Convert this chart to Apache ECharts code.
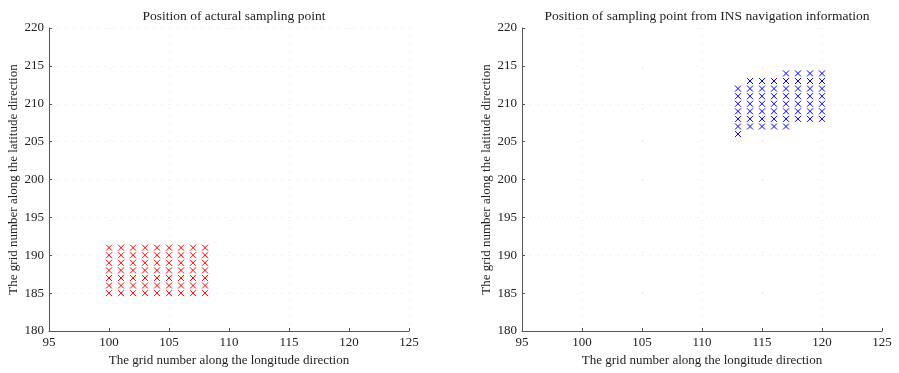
<!DOCTYPE html>
<html>
<head>
<meta charset="utf-8">
<script src="https://cdn.jsdelivr.net/npm/echarts@6/dist/echarts.min.js"></script>
<style>
html,body{margin:0;padding:0;background:#fff;}
#c{width:899px;height:373px;}
</style>
</head>
<body>
<div id="c"></div>
<script>
// Titles and axis names
var titleLeft = 'Position of actural sampling point';
var titleRight = 'Position of sampling point from INS navigation information';
var xName = 'The grid number along the longitude direction';
var yName = 'The grid number along the latitude direction';

// Axis ranges / tick labels
var xTicks = [95, 100, 105, 110, 115, 120, 125];
var yTicks = [180, 185, 190, 195, 200, 205, 210, 215, 220];

// Actual sampling points: columns (x) and the y values in each column
var actualX = [100, 101, 102, 103, 104, 105, 106, 107, 108];
var actualY = [
  [185,186,187,188,189,190,191],
  [185,186,187,188,189,190,191],
  [185,186,187,188,189,190,191],
  [185,186,187,188,189,190,191],
  [185,186,187,188,189,190,191],
  [185,186,187,188,189,190,191],
  [185,186,187,188,189,190,191],
  [185,186,187,188,189,190,191],
  [185,186,187,188,189,190,191]
];

// INS sampling points: columns (x) and the y values in each column
var insX = [113, 114, 115, 116, 117, 118, 119, 120];
var insY = [
  [206,207,208,209,210,211,212],
  [207,208,209,210,211,212,213],
  [207,208,209,210,211,212,213],
  [207,208,209,210,211,212,213],
  [207,208,209,210,211,212,213,214],
  [208,209,210,211,212,213,214],
  [208,209,210,211,212,213,214],
  [208,209,210,211,212,213,214]
];

function pairs(xs, ys) {
  var out = [];
  for (var i = 0; i < xs.length; i++) {
    for (var j = 0; j < ys[i].length; j++) out.push([xs[i], ys[i][j]]);
  }
  return out;
}

var FONT = '"Liberation Serif", "DejaVu Serif", serif';
var cross = 'path://M0,0L10,10M10,0L0,10';

function xAxisCfg(idx) {
  return {
    type: 'value', gridIndex: idx,
    min: xTicks[0], max: xTicks[xTicks.length - 1], interval: 5,
    name: xName, nameLocation: 'middle', nameGap: 23,
    nameTextStyle: { fontFamily: FONT, fontSize: 13, color: '#222' },
    axisLine: { show: true, onZero: false, lineStyle: { color: '#555', width: 1 } },
    axisTick: { show: true, inside: true, length: 3, lineStyle: { color: '#555' } },
    axisLabel: { fontFamily: FONT, fontSize: 13, color: '#222', margin: 5 },
    splitLine: { show: true, lineStyle: { color: '#e6e6e6', type: [1, 7], width: 1 } }
  };
}
function yAxisCfg(idx) {
  return {
    type: 'value', gridIndex: idx,
    min: yTicks[0], max: yTicks[yTicks.length - 1], interval: 5,
    name: yName, nameLocation: 'middle', nameGap: 29, nameRotate: 90,
    nameTextStyle: { fontFamily: FONT, fontSize: 13, color: '#222' },
    axisLine: { show: true, onZero: false, lineStyle: { color: '#555', width: 1 } },
    axisTick: { show: true, inside: true, length: 3, lineStyle: { color: '#555' } },
    axisLabel: { fontFamily: FONT, fontSize: 13, color: '#222', margin: 5 },
    splitLine: { show: true, lineStyle: { color: '#e6e6e6', type: [1, 7], width: 1 } }
  };
}

var chart = echarts.init(document.getElementById('c'), null, { renderer: 'canvas' });
chart.setOption({
  animation: false,
  backgroundColor: '#fff',
  title: [
    { text: titleLeft, left: 229, top: 4, textAlign: 'center',
      textStyle: { fontFamily: FONT, fontSize: 13.5, fontWeight: 'normal', color: '#222' } },
    { text: titleRight, left: 702, top: 4, textAlign: 'center',
      textStyle: { fontFamily: FONT, fontSize: 13.5, fontWeight: 'normal', color: '#222' } }
  ],
  grid: [
    { left: 49, top: 28, width: 360, height: 303 },
    { left: 522, top: 28, width: 360, height: 303 }
  ],
  xAxis: [xAxisCfg(0), xAxisCfg(1)],
  yAxis: [yAxisCfg(0), yAxisCfg(1)],
  series: [
    { type: 'scatter', xAxisIndex: 0, yAxisIndex: 0, data: pairs(actualX, actualY),
      symbol: cross, symbolSize: 6, silent: true,
      itemStyle: { color: '#ff0000', borderColor: '#ff0000', borderWidth: 1, opacity: 1 } },
    { type: 'scatter', xAxisIndex: 1, yAxisIndex: 1, data: pairs(insX, insY),
      symbol: cross, symbolSize: 6, silent: true,
      itemStyle: { color: '#0000ff', borderColor: '#0000ff', borderWidth: 1, opacity: 1 } }
  ]
});
</script>
</body>
</html>
